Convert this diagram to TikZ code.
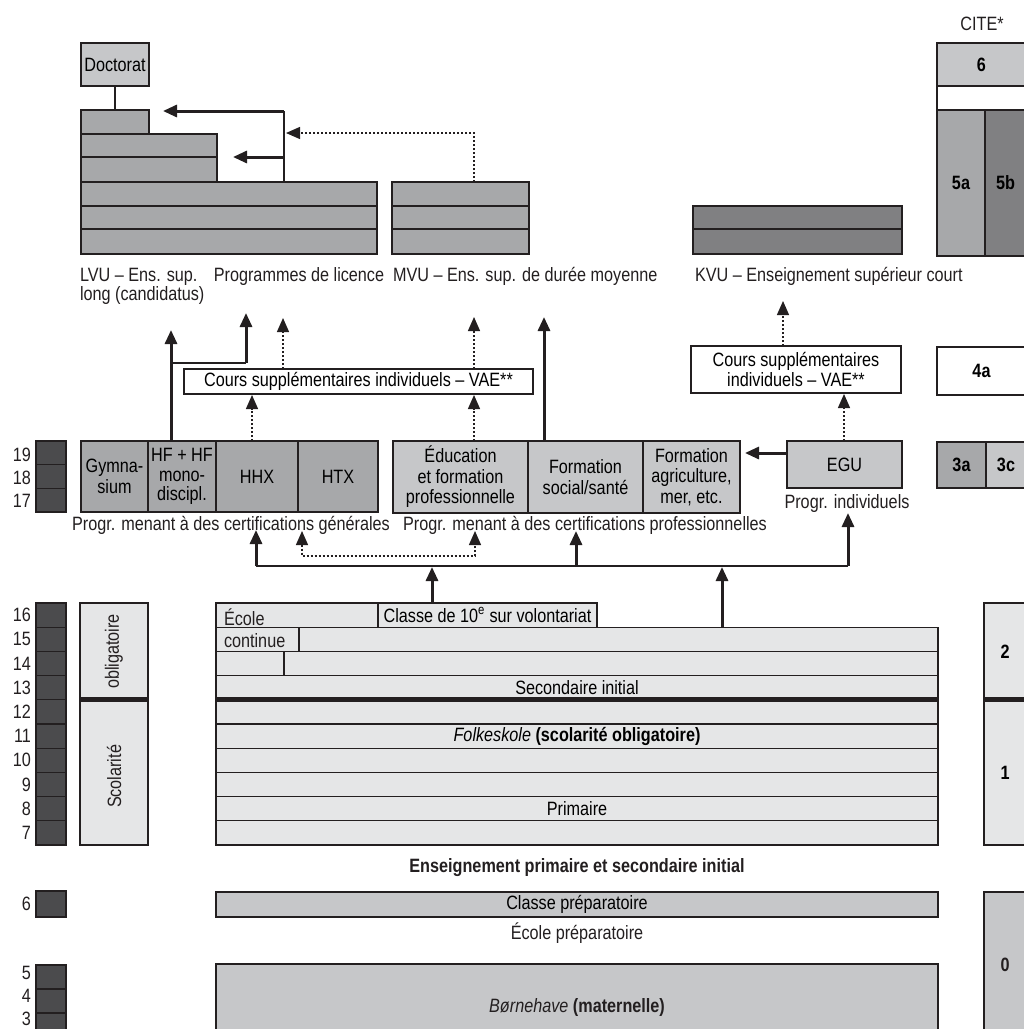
\documentclass[tikz,border=0pt]{standalone}
\usepackage{fontspec}
\setmainfont{Liberation Sans}[FakeStretch=0.84]
\usetikzlibrary{arrows.meta}
\definecolor{dk}{HTML}{4B4B4D}
\definecolor{md}{HTML}{A7A8AA}
\definecolor{kv}{HTML}{808082}
\definecolor{lt}{HTML}{C6C7C9}
\definecolor{pl}{HTML}{E5E6E7}
\definecolor{ln}{HTML}{231F20}
\newcommand\fs{\fontsize{19.3}{20.5}\selectfont}
\tikzset{
  bx/.style={draw=ln, line width=1.3pt, fill=#1, inner sep=0pt, outer sep=0pt, anchor=north west, align=center},
  txt/.style={inner sep=0pt, outer sep=0pt, text=ln},
  tip/.style={-{Triangle[width=12pt,length=14pt]}},
  thk/.style={draw=ln, line width=3pt, tip},
  thkline/.style={draw=ln, line width=2.2pt},
  thin/.style={draw=ln, line width=1.3pt},
  dotl/.style={draw=ln, line width=1.3pt, dash pattern=on 2pt off 2pt},
  dot/.style={dotl, tip},
  agebox/.style={bx=dk, minimum width=30pt},
}
\begin{document}
\begin{tikzpicture}[x=1pt,y=-1pt,font=\fs]
\useasboundingbox (0,0) rectangle (1024,1029);
\fill[white] (0,0) rectangle (1024,1029);
\clip (0,0) rectangle (1024,1029);

% ---------- top: higher education ----------
\node[bx=lt,minimum width=68pt,minimum height=43pt] (doc) at (81,43) {Doctorat};
\node[bx=md,minimum width=68pt,minimum height=24pt] (l1) at (81,110) {};
\node[bx=md,minimum width=136pt,minimum height=23pt] (l2) at (81,134) {};
\node[bx=md,minimum width=136pt,minimum height=25pt] (l3) at (81,157) {};
\node[bx=md,minimum width=296pt,minimum height=24pt] (l4) at (81,182) {};
\node[bx=md,minimum width=296pt,minimum height=23pt] (l5) at (81,206) {};
\node[bx=md,minimum width=296pt,minimum height=25pt] (l6) at (81,229) {};
\node[bx=md,minimum width=137pt,minimum height=24pt] (m1) at (392,182) {};
\node[bx=md,minimum width=137pt,minimum height=23pt] (m2) at (392,206) {};
\node[bx=md,minimum width=137pt,minimum height=25pt] (m3) at (392,229) {};
\node[bx=kv,minimum width=209pt,minimum height=23pt] (k1) at (693,206) {};
\node[bx=kv,minimum width=209pt,minimum height=25pt] (k2) at (693,229) {};

\draw[thin] (doc.south) -- (l1.north);
\coordinate (vt) at (284,111);
\coordinate (vm) at (284,157);
\coordinate (vb) at (284,182);
\coordinate (h1) at (163,111);
\coordinate (h2) at (233,157);
\draw[thin] (vt) -- (vb);
\draw[thk] (vt) -- (h1);
\draw[thk] (vm) -- (h2);
\coordinate (mt) at (474,182);
\coordinate (mc) at (474,133);
\coordinate (mh) at (286,133);
\draw[dot] (mt) -- (mc) -- (mh);

\node[txt, anchor=base west, align=left] (tlvu) at (80,300.5) {LVU – Ens. sup.\\[-1.5pt]long (candidatus)};
\node[txt, anchor=base] (tlic) at (299,281.5) {Programmes de licence};
\node[txt, anchor=base west] (tmvu) at (393,281.5) {MVU – Ens. sup. de durée moyenne};
\node[txt, anchor=base west] (tkvu) at (695,281.5) {KVU – Enseignement supérieur court};
\node[txt, anchor=base] (tcite) at (982,30) {CITE*};

% ---------- CITE column ----------
\node[bx=lt,minimum width=89pt,minimum height=43pt] (c6) at (937,43) {\bfseries 6};
\node[bx=white,minimum width=89pt,minimum height=24pt] (cw) at (937,86) {};
\node[bx=md,minimum width=48pt,minimum height=146pt] (c5a) at (937,110) {\bfseries 5a};
\node[bx=kv,minimum width=41pt,minimum height=146pt] (c5b) at (985,110) {\bfseries 5b};
\node[bx=white,minimum width=89pt,minimum height=48pt] (c4a) at (937,347) {\bfseries 4a};
\node[bx=md,minimum width=49pt,minimum height=46pt] (c3a) at (937,442) {\bfseries 3a};
\node[bx=lt,minimum width=40pt,minimum height=46pt] (c3c) at (986,442) {\bfseries 3c};
\node[bx=pl,minimum width=42pt,minimum height=96.8pt] (c2) at (984,603) {\bfseries 2};
\node[bx=pl,minimum width=42pt,minimum height=145.2pt] (c1) at (984,699.8) {\bfseries 1};
\draw[draw=ln, line width=5pt] (c1.north west) -- (c1.north east);
\node[bx=lt,minimum width=42pt,minimum height=150pt] (c0) at (984,892) {};
\node[txt, font=\fs\bfseries] (t0) at (1005,965) {0};

% ---------- upper secondary ----------
\node[bx=md,minimum width=67pt,minimum height=71pt] (g1) at (81,441) {Gymna-\\sium};
\node[bx=md,minimum width=68pt,minimum height=71pt] (g2) at (148,441) {HF + HF\\[-1pt]mono-\\[-1pt]discipl.};
\node[bx=md,minimum width=82pt,minimum height=71pt] (g3) at (216,441) {HHX};
\node[bx=md,minimum width=80pt,minimum height=71pt] (g4) at (298,441) {HTX};
\node[bx=lt,minimum width=135pt,minimum height=72pt] (p1) at (393,441) {Éducation\\et formation\\professionnelle};
\node[bx=lt,minimum width=115pt,minimum height=72pt] (p2) at (528,441) {Formation\\social/santé};
\node[bx=lt,minimum width=97pt,minimum height=72pt] (p3) at (643,441) {Formation\\agriculture,\\mer, etc.};
\node[bx=lt,minimum width=115pt,minimum height=47pt] (egu) at (787,441) {EGU};
\node[txt, anchor=base] (tgen) at (231,530) {Progr. menant à des certifications générales};
\node[txt, anchor=base] (tpro) at (585,530) {Progr. menant à des certifications professionnelles};
\node[txt, anchor=base] (tind) at (847,508) {Progr. individuels};

\node[bx=white,minimum width=349pt,minimum height=25pt] (cs1) at (184,369) {Cours supplémentaires individuels – VAE**};
\node[bx=white,minimum width=210pt,minimum height=47pt] (cs2) at (691,346) {Cours supplémentaires\\individuels – VAE**};

% arrows in the middle band
\coordinate (ga) at (171,441);
\coordinate (gat) at (171,330);
\draw[thk] (ga) -- (gat);
\coordinate (gb) at (171,363);
\coordinate (gc) at (246,363);
\coordinate (gct) at (246,313);
\draw[thkline] (gb) -- (gc);
\draw[thk] (gc) -- (gct);
\coordinate (hh1) at (252,441);
\coordinate (hh2) at (252,395);
\draw[dot] (hh1) -- (hh2);
\coordinate (cc1) at (283,369);
\coordinate (cc2) at (283,318);
\draw[dot] (cc1) -- (cc2);
\coordinate (ee1) at (474,441);
\coordinate (ee2) at (474,395);
\draw[dot] (ee1) -- (ee2);
\coordinate (ee3) at (474,369);
\coordinate (ee4) at (474,317);
\draw[dot] (ee3) -- (ee4);
\coordinate (ps1) at (544,441);
\coordinate (ps2) at (544,317);
\draw[thk] (ps1) -- (ps2);
\coordinate (eg1) at (844,441);
\coordinate (eg2) at (844,394);
\draw[dot] (eg1) -- (eg2);
\coordinate (kc1) at (783,346);
\coordinate (kc2) at (783,301);
\draw[dot] (kc1) -- (kc2);
\coordinate (ew1) at (786,453);
\coordinate (ew2) at (745,453);
\draw[thk] (ew1) -- (ew2);

% arrows from compulsory school
\coordinate (b1) at (256,566);
\coordinate (b2) at (576,566);
\coordinate (b3) at (848,566);
\draw[thkline] (b1) -- (b3);
\coordinate (b1t) at (256,530);
\coordinate (b2t) at (576,531);
\coordinate (b3t) at (848,513);
\draw[thk] (b1) -- (b1t);
\draw[thk] (b2) -- (b2t);
\draw[thk] (b3) -- (b3t);
\coordinate (u1) at (432,603);
\coordinate (u1t) at (432,567);
\coordinate (u2) at (722,627);
\coordinate (u2t) at (722,567);
\draw[thk] (u1) -- (u1t);
\draw[thk] (u2) -- (u2t);
\coordinate (d1) at (302,531);
\coordinate (d2) at (302,556);
\coordinate (d3) at (475,556);
\coordinate (d4) at (475,531);
\draw[dotl, {Triangle[width=12pt,length=14pt]}-{Triangle[width=12pt,length=14pt]}] (d1) -- (d2) -- (d3) -- (d4);

% ---------- ages ----------
\node[agebox, minimum height=23.7pt] (a19) at (36,441) {};
\node[agebox, minimum height=23.6pt] (a18) at (36,464.7) {};
\node[agebox, minimum height=23.7pt] (a17) at (36,488.3) {};
\node[txt, anchor=east] (n19) at (31,455) {19};
\node[txt, anchor=east] (n18) at (31,478) {18};
\node[txt, anchor=east] (n17) at (31,500.5) {17};
\foreach \n [count=\i from 0] in {16,15,14,13,12,11,10,9,8,7} {
  \node[agebox, minimum height=24.2pt] (a\n) at (36,603+24.2*\i) {};
  \node[txt, anchor=east] (n\n) at (31,615.1+24.2*\i) {\n};
}
\node[agebox, minimum height=26pt] (a6) at (36,891) {};
\node[txt, anchor=east] (n6) at (31,904) {6};
\foreach \n [count=\i from 0] in {5,4,3} {
  \node[agebox, minimum height=24pt] (a\n) at (36,965+24*\i) {};
  \node[txt, anchor=east] (n\n) at (31,973+23*\i) {\n};
}

% ---------- compulsory schooling ----------
\node[bx=pl,minimum width=68pt,minimum height=96.8pt] (sco1) at (80,603) {};
\node[bx=pl,minimum width=68pt,minimum height=145.2pt] (sco2) at (80,699.8) {};
\draw[draw=ln, line width=5pt] (sco2.north west) -- (sco2.north east);
\node[txt, rotate=90] (tobl) at (sco1.center) {obligatoire};
\node[txt, rotate=90] (tsco) at ([yshift=-4pt]sco2.center) {Scolarité};

\node[bx=pl,minimum width=162pt,minimum height=24.2pt] (s16a) at (216,603) {};
\node[bx=pl,minimum width=219pt,minimum height=24.2pt] (s16b) at (378,603) {Classe de 10\textsuperscript{e} sur volontariat};
\node[bx=pl,minimum width=83pt,minimum height=24.2pt] (s15a) at (216,627.2) {};
\node[bx=pl,minimum width=639pt,minimum height=24.2pt] (s15b) at (299,627.2) {};
\node[bx=pl,minimum width=68pt,minimum height=24.2pt] (s14a) at (216,651.4) {};
\node[bx=pl,minimum width=654pt,minimum height=24.2pt] (s14b) at (284,651.4) {};
\node[bx=pl,minimum width=722pt,minimum height=24.2pt] (s13) at (216,675.6) {Secondaire initial};
\node[bx=pl,minimum width=722pt,minimum height=24.2pt] (s12) at (216,699.8) {};
\node[bx=pl,minimum width=722pt,minimum height=24.2pt] (s11) at (216,724) {\textit{Folkeskole} \textbf{(scolarité obligatoire)}};
\node[bx=pl,minimum width=722pt,minimum height=24.2pt] (s10) at (216,748.2) {};
\node[bx=pl,minimum width=722pt,minimum height=24.2pt] (s9) at (216,772.4) {};
\node[bx=pl,minimum width=722pt,minimum height=24.2pt] (s8) at (216,796.6) {Primaire};
\node[bx=pl,minimum width=722pt,minimum height=24.2pt] (s7) at (216,820.8) {};
\draw[draw=ln, line width=5pt] (s12.north west) -- (s12.north east);
\node[txt, anchor=base west] (tecole) at (224,625) {École};
\node[txt, anchor=base west] (tcont) at (224,647) {continue};

\node[txt, anchor=base, font=\fs\bfseries] (tens) at (577,872) {Enseignement primaire et secondaire initial};

% ---------- pre-school ----------
\node[bx=lt,minimum width=722pt,minimum height=25pt] (cp) at (216,892) {Classe préparatoire};
\node[txt, anchor=base] (tecp) at (577,939) {École préparatoire};
\node[bx=lt,minimum width=722pt,minimum height=90pt] (bh) at (216,964) {};
\node[txt] (tbh) at (577,1007) {\textit{Børnehave} \textbf{(maternelle)}};
\end{tikzpicture}
\end{document}
